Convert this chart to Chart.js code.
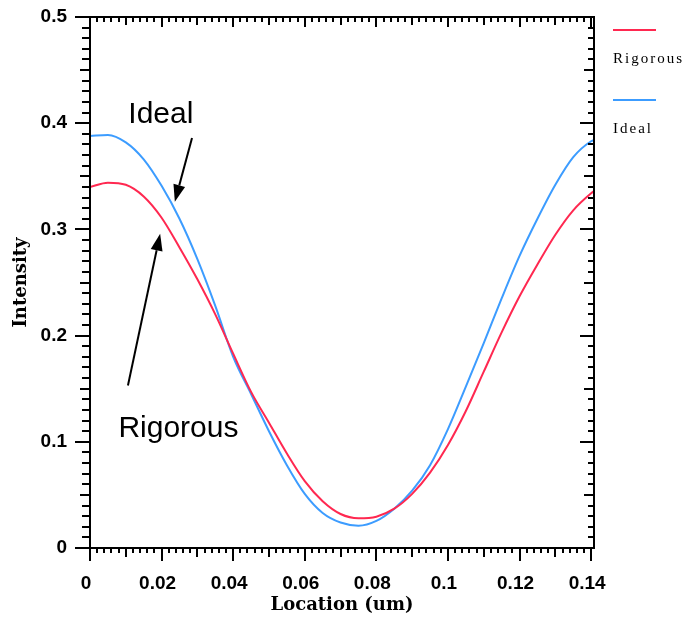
<!DOCTYPE html>
<html>
<head>
<meta charset="utf-8">
<script src="https://cdn.jsdelivr.net/npm/chart.js@4"></script>
<style>
  html, body { margin: 0; padding: 0; background: #fff; }
</style>
</head>
<body>
<canvas id="chart" width="689" height="619"></canvas>
<script>
// values
var locations = [0, 0.005, 0.01, 0.015, 0.02, 0.025, 0.03, 0.035, 0.04, 0.045, 0.05, 0.055, 0.06, 0.065, 0.07,
                 0.075, 0.08, 0.085, 0.09, 0.095, 0.1, 0.105, 0.11, 0.115, 0.12, 0.125, 0.13, 0.135, 0.14, 0.1408];
var rigorous = [0.340, 0.344, 0.342, 0.331, 0.311, 0.283, 0.253, 0.220, 0.183, 0.147, 0.118, 0.089, 0.063, 0.044, 0.032,
                0.028, 0.0295, 0.037, 0.051, 0.071, 0.097, 0.129, 0.166, 0.203, 0.237, 0.267, 0.295, 0.318, 0.334, 0.336];
var ideal = [0.388, 0.389, 0.382, 0.366, 0.341, 0.310, 0.272, 0.228, 0.180, 0.145, 0.110, 0.078, 0.051, 0.033, 0.024,
             0.021, 0.0255, 0.037, 0.054, 0.078, 0.112, 0.152, 0.193, 0.235, 0.275, 0.310, 0.342, 0.368, 0.383, 0.384];

var xTicks = [0, 0.02, 0.04, 0.06, 0.08, 0.1, 0.12, 0.14];
var yTicks = [0, 0.1, 0.2, 0.3, 0.4, 0.5];

var redColor = '#ff2850';
var blueColor = '#3c9cff';

// callout texts with arrows, in data units
var callouts = [
    { text: 'Ideal', at: [0.0198, 0.400], from: [0.0285, 0.386], to: [0.0237, 0.326] },
    { text: 'Rigorous', at: [0.0247, 0.1045], from: [0.0106, 0.153], to: [0.0196, 0.296] }
];

function fmt(v) {
    return String(parseFloat(v.toFixed(2)));
}

// axis box with major/minor ticks on all four sides
var axisBoxPlugin = {
    id: 'axisBox',
    afterDraw: function (chart) {
        var ctx = chart.ctx;
        var xs = chart.scales.x, ys = chart.scales.y, a = chart.chartArea;
        ctx.save();
        ctx.strokeStyle = '#000';
        ctx.lineWidth = 2;
        ctx.strokeRect(a.left, a.top, a.right - a.left, a.bottom - a.top);
        ctx.beginPath();
        for (var i = 0; i <= 70; i++) {
            var px = Math.round(xs.getPixelForValue(i * 0.002));
            var down = i % 10 == 0 ? 13 : (i % 5 == 0 ? 9 : 5);
            var up = i % 10 == 0 ? 10 : (i % 5 == 0 ? 8 : 5);
            ctx.moveTo(px, a.bottom);
            ctx.lineTo(px, a.bottom + down);
            ctx.moveTo(px, a.top);
            ctx.lineTo(px, a.top + up);
        }
        for (var j = 0; j <= 50; j++) {
            var py = Math.round(ys.getPixelForValue(j * 0.01));
            var left = j % 10 == 0 ? 15 : (j % 5 == 0 ? 10 : 8);
            var right = j % 10 == 0 ? 14 : (j % 5 == 0 ? 10 : 6);
            ctx.moveTo(a.left - left, py);
            ctx.lineTo(a.left, py);
            ctx.moveTo(a.right, py);
            ctx.lineTo(a.right - right, py);
        }
        ctx.stroke();

        // legend: line then label underneath
        ctx.font = '15px "Liberation Serif"';
        ctx.fillStyle = '#000';
        ctx.textBaseline = 'alphabetic';
        ctx.textAlign = 'left';
        if ('letterSpacing' in ctx) ctx.letterSpacing = '2px';
        chart.data.datasets.forEach(function (ds, k) {
            var y0 = 30 + k * 70;
            ctx.strokeStyle = ds.borderColor;
            ctx.lineWidth = 2;
            ctx.beginPath();
            ctx.moveTo(613, y0);
            ctx.lineTo(656, y0);
            ctx.stroke();
            ctx.fillText(ds.label, 613, y0 + 33);
        });
        ctx.restore();
    }
};

var calloutPlugin = {
    id: 'callouts',
    afterDatasetsDraw: function (chart) {
        var ctx = chart.ctx;
        var xs = chart.scales.x, ys = chart.scales.y;
        ctx.save();
        ctx.fillStyle = '#000';
        ctx.strokeStyle = '#000';
        ctx.font = '30px "Liberation Sans"';
        ctx.textAlign = 'center';
        ctx.textBaseline = 'alphabetic';
        callouts.forEach(function (c) {
            ctx.fillText(c.text, xs.getPixelForValue(c.at[0]), ys.getPixelForValue(c.at[1]));
            var x1 = xs.getPixelForValue(c.from[0]), y1 = ys.getPixelForValue(c.from[1]);
            var x2 = xs.getPixelForValue(c.to[0]), y2 = ys.getPixelForValue(c.to[1]);
            var ang = Math.atan2(y2 - y1, x2 - x1);
            var head = 17, half = 6;
            var bx = x2 - head * Math.cos(ang), by = y2 - head * Math.sin(ang);
            ctx.lineWidth = 2;
            ctx.beginPath();
            ctx.moveTo(x1, y1);
            ctx.lineTo(bx, by);
            ctx.stroke();
            ctx.beginPath();
            ctx.moveTo(x2, y2);
            ctx.lineTo(bx + half * Math.sin(ang), by - half * Math.cos(ang));
            ctx.lineTo(bx - half * Math.sin(ang), by + half * Math.cos(ang));
            ctx.closePath();
            ctx.fill();
        });
        ctx.restore();
    }
};

var tickFont = { family: 'Liberation Sans', weight: 'bold', size: 19 };
var titleFont = { family: 'DejaVu Serif', weight: 'bold', size: 18 };

new Chart(document.getElementById('chart'), {
    type: 'line',
    data: {
        labels: locations,
        datasets: [{
            label: 'Rigorous',
            data: locations.map(function (x, i) { return { x: x, y: rigorous[i] }; }),
            borderColor: redColor,
            borderWidth: 2,
            pointRadius: 0,
            cubicInterpolationMode: 'monotone',
            fill: false
        }, {
            label: 'Ideal',
            data: locations.map(function (x, i) { return { x: x, y: ideal[i] }; }),
            borderColor: blueColor,
            borderWidth: 2,
            pointRadius: 0,
            cubicInterpolationMode: 'monotone',
            fill: false
        }]
    },
    options: {
        responsive: false,
        animation: false,
        layout: { padding: { top: 17, right: 95, left: 0, bottom: 0 } },
        plugins: { legend: { display: false }, tooltip: { enabled: false } },
        scales: {
            x: {
                type: 'linear',
                min: 0,
                max: 0.1408,
                afterBuildTicks: function (s) { s.ticks = xTicks.map(function (v) { return { value: v }; }); },
                afterFit: function (s) { s.height = 71; },
                grid: { display: false, drawTicks: false, tickLength: 0 },
                border: { display: false },
                ticks: { padding: 24, labelOffset: -4, color: '#000', font: tickFont, maxRotation: 0, autoSkip: false, callback: fmt },
                title: { display: true, text: 'Location (um)', color: '#000', font: titleFont, padding: { top: 0, bottom: 3 } }
            },
            y: {
                min: 0,
                max: 0.5,
                afterBuildTicks: function (s) { s.ticks = yTicks.map(function (v) { return { value: v }; }); },
                afterFit: function (s) { s.width = 90; s.paddingTop = 0; s.paddingBottom = 0; },
                grid: { display: false, drawTicks: false, tickLength: 0 },
                border: { display: false },
                ticks: { padding: 23, color: '#000', font: tickFont, callback: fmt },
                title: { display: true, text: 'Intensity', color: '#000', font: titleFont, padding: { top: 11, bottom: 0 } }
            }
        }
    },
    plugins: [axisBoxPlugin, calloutPlugin]
});
</script>
</body>
</html>
